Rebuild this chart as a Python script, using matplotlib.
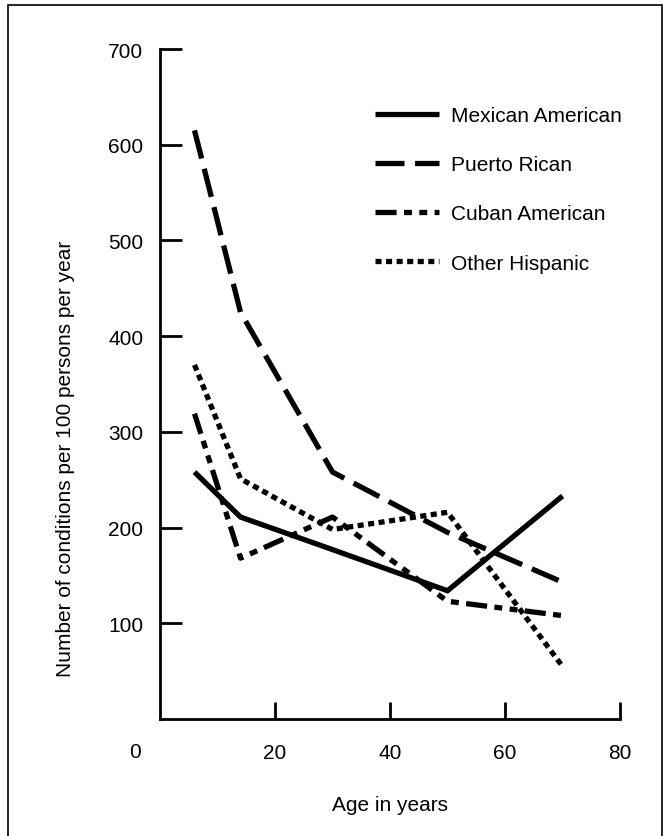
import matplotlib
matplotlib.use("Agg")
import matplotlib.pyplot as plt
from matplotlib.patches import Rectangle

plt.rcParams['font.family'] = ['Liberation Sans', 'DejaVu Sans']

# age midpoints of the age groups
ages = [6, 14, 30, 50, 70]
mexican = [258, 211, 177, 134, 233]
puerto_rican = [615, 425, 258, 195, 143]
cuban = [319, 168, 211, 123, 108]
other = [370, 251, 198, 216, 55]

series_names = ["Mexican American", "Puerto Rican", "Cuban American", "Other Hispanic"]

xticks = [20, 40, 60, 80]
yticks = [100, 200, 300, 400, 500, 600, 700]

W, H = 670, 837
fig = plt.figure(figsize=(W / 100, H / 100), dpi=100)
ax = fig.add_axes([160 / W, 1 - 720 / H, 460 / W, 670 / H])

fs = 15
lw = 3.8
ax.plot(ages, mexican, color='black', lw=lw, solid_capstyle='butt',
        solid_joinstyle='miter', label=series_names[0])
ax.plot(ages, puerto_rican, color='black', lw=lw, dashes=(5.5, 2),
        dash_capstyle='butt', label=series_names[1])
ax.plot(ages, cuban, color='black', lw=lw, dashes=(4, 1.4, 1.5, 1.4, 1.5, 1.4),
        dash_capstyle='butt', label=series_names[2])
ax.plot(ages, other, color='black', lw=lw, dashes=(1.15, 0.85),
        dash_capstyle='butt', label=series_names[3])

ax.set_xlim(0, 80)
ax.set_ylim(0, 700)
ax.spines['top'].set_visible(False)
ax.spines['right'].set_visible(False)
for s in ['left', 'bottom']:
    ax.spines[s].set_linewidth(2)
    ax.spines[s].set_color('black')

ax.set_xticks(xticks)
ax.set_yticks(yticks)
ax.tick_params(axis='x', direction='in', length=12, width=2, pad=17, labelsize=fs)
ax.tick_params(axis='y', direction='in', length=16, width=2, pad=12, labelsize=fs)
# origin label sits left of the corner
ax.annotate("0", xy=(0, 0), xytext=(-18, -23.5), textcoords='offset points',
            ha='center', va='center', fontsize=fs)

ax.set_xlabel("Age in years", fontsize=fs, labelpad=24)
ax.set_ylabel("Number of conditions per 100 persons per year", fontsize=fs)
ax.yaxis.set_label_coords(-0.185, 0.39)

leg = ax.legend(loc='upper left', bbox_to_anchor=(375 / W, 1 - 107 / H),
                bbox_transform=fig.transFigure, frameon=False, fontsize=fs,
                handlelength=3.05, handletextpad=0.6, labelspacing=1.45,
                borderpad=0, borderaxespad=0)

# page frame around the figure
fig.patches.append(Rectangle((8 / W, -0.01), (662 - 8) / W, 1 - 6 / H + 0.01,
                             transform=fig.transFigure, fill=False,
                             edgecolor='black', lw=1.2))

fig.savefig("out.png", dpi=100)
